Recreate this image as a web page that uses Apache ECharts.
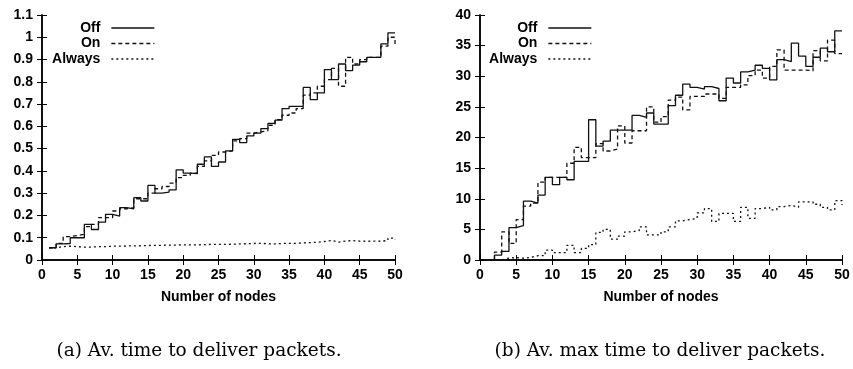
<!DOCTYPE html>
<html>
<head>
<meta charset="utf-8">
<script src="https://cdn.jsdelivr.net/npm/echarts@6/dist/echarts.min.js"></script>
<style>
  html, body { margin: 0; padding: 0; background: #fff; }
  #chart { width: 853px; height: 369px; }
</style>
</head>
<body>
<div id="chart"></div>
<script>
const nodes = [1,2,3,4,5,6,7,8,9,10,11,12,13,14,15,16,17,18,19,20,21,22,23,24,25,
  26,27,28,29,30,31,32,33,34,35,36,37,38,39,40,41,42,43,44,45,46,47,48,49,50];

// (a) average time to deliver packets
const avgOff = [0.055,0.072,0.074,0.10,0.10,0.16,0.137,0.17,0.205,0.197,0.235,0.23,0.28,0.265,0.335,0.30,0.305,0.315,0.405,0.39,
  0.388,0.43,0.463,0.42,0.44,0.49,0.542,0.527,0.557,0.57,0.59,0.613,0.628,0.68,0.69,0.69,0.775,0.72,0.75,0.855,
  0.81,0.88,0.85,0.875,0.89,0.91,0.91,0.97,1.02,1.02];
const avgOn = [0.055,0.075,0.105,0.11,0.115,0.15,0.16,0.19,0.19,0.22,0.23,0.235,0.275,0.275,0.30,0.32,0.33,0.345,0.37,0.38,
  0.39,0.42,0.445,0.47,0.485,0.49,0.535,0.545,0.57,0.575,0.58,0.605,0.63,0.65,0.66,0.68,0.74,0.75,0.78,0.81,
  0.86,0.78,0.91,0.88,0.90,0.91,0.91,0.96,1.0,0.96];
const avgAlways = [0.055,0.06,0.062,0.06,0.058,0.058,0.06,0.06,0.062,0.062,0.063,0.063,0.064,0.065,0.066,0.066,0.067,0.067,0.068,0.068,
  0.068,0.069,0.07,0.07,0.07,0.071,0.072,0.073,0.074,0.075,0.073,0.072,0.074,0.075,0.075,0.077,0.078,0.08,0.083,0.088,
  0.08,0.085,0.087,0.085,0.084,0.085,0.084,0.088,0.098,0.092];

// (b) average max time to deliver packets
const maxOff = [0,0.8,1.4,5.3,5.6,9.6,9.3,10.6,13.5,12.3,13.5,13.1,16.1,16.1,22.9,18.6,19.4,21.2,21.2,21.2,
  23.6,23.3,24.0,22.2,22.2,25.2,26.9,28.7,28.2,27.9,28.3,28.0,26.0,29.7,28.9,30.7,31.0,31.8,31.3,29.4,
  32.7,32.4,35.4,33.3,31.6,33.1,34.6,34.0,37.4,37.4];
const maxOn = [0,1.3,4.6,2.7,6.6,8.8,9.3,12.7,13.5,13.5,13.5,15.8,18.4,16.7,16.7,19.0,17.8,18.1,21.9,19.1,
  21.1,21.1,25.0,22.5,23.4,26.1,26.6,24.5,26.7,26.7,27.1,27.1,26.4,28.2,28.2,28.6,30.1,31.0,29.7,31.6,
  34.3,31.0,31.0,31.0,30.9,34.2,32.5,35.9,33.7,33.7];
const maxAlways = [0,0,0.3,0.4,0.3,0.4,0.7,0.7,1.6,1.2,1.2,2.4,1.2,1.9,2.5,4.5,5.0,3.4,3.9,4.6,
  4.8,5.4,4.1,4.1,4.6,5.4,6.4,6.6,6.8,7.7,8.4,6.3,7.6,7.6,6.3,8.6,6.8,8.4,8.6,8.2,
  8.7,8.9,8.6,9.5,9.5,9.1,8.6,8.2,9.7,9.0];

const seriesNames = ['Off', 'On', 'Always'];

const sans = 'Liberation Sans';
const pair = (ys) => nodes.map((x, i) => [x, ys[i]]);
const dashes = ['solid', [4, 3], [2, 3]];

const grids = [
  { left: 42, right: 458, top: 15, bottom: 109 },
  { left: 480, right: 11, top: 15, bottom: 109 }
];

const xAxes = [], yAxes = [], series = [], legends = [];
grids.forEach((g, k) => {
  const labelStyle = { fontFamily: sans, fontWeight: 'bold', fontSize: 14, color: '#000' };
  xAxes.push({
    type: 'value', gridIndex: k, min: 0, max: 50, interval: 5, position: 'bottom',
    name: 'Number of nodes', nameLocation: 'middle', nameGap: 30,
    nameTextStyle: labelStyle,
    axisLine: { lineStyle: { color: '#000', width: 1.5 } },
    axisTick: { inside: true, length: 5, lineStyle: { color: '#000' } },
    axisLabel: Object.assign({ margin: 8 }, labelStyle),
    splitLine: { show: false }
  });
  xAxes.push({
    type: 'value', gridIndex: k, min: 0, max: 50, interval: 5, position: 'top',
    axisLine: { lineStyle: { color: '#000', width: 1.5 } },
    axisTick: { inside: true, length: 5, lineStyle: { color: '#000' } },
    axisLabel: { show: false }, splitLine: { show: false }
  });
  const yMax = k === 0 ? 1.1 : 40;
  const yInt = k === 0 ? 0.1 : 5;
  yAxes.push({
    type: 'value', gridIndex: k, min: 0, max: yMax, interval: yInt, position: 'left',
    axisLine: { show: true, lineStyle: { color: '#000', width: 1.5 } },
    axisTick: { show: true, inside: true, length: 5, lineStyle: { color: '#000' } },
    axisLabel: Object.assign({ margin: 9, formatter: v => String(+v.toFixed(1)) }, labelStyle),
    splitLine: { show: false }
  });
  yAxes.push({
    type: 'value', gridIndex: k, min: 0, max: yMax, interval: yInt, position: 'right',
    axisLine: { show: true, lineStyle: { color: '#000', width: 1.5 } },
    axisTick: { show: true, inside: true, length: 5, lineStyle: { color: '#000' } },
    axisLabel: { show: false }, splitLine: { show: false }
  });
  const data = k === 0 ? [avgOff, avgOn, avgAlways] : [maxOff, maxOn, maxAlways];
  seriesNames.forEach((name, s) => {
    series.push({
      name: name, type: 'line', step: 'end',
      xAxisIndex: k * 2, yAxisIndex: k * 2,
      data: pair(data[s]), symbol: 'none', silent: true,
      color: '#111',
      lineStyle: { color: '#111', width: 1.3, type: dashes[s] }
    });
    // one legend per row so text is right aligned against the sample line
    legends.push({
      data: [name], orient: 'vertical', align: 'right', selectedMode: false,
      right: k === 0 ? 698 : 261, top: 21 + s * 15.5,
      itemWidth: 43, itemHeight: 10, padding: 0,
      itemStyle: { opacity: 0 },
      lineStyle: { color: '#111', width: 1.3, type: dashes[s] },
      textStyle: { fontFamily: sans, fontWeight: 'bold', fontSize: 14, color: '#000', padding: [0, 6, 0, 0] }
    });
  });
});

const chart = echarts.init(document.getElementById('chart'));
chart.setOption({
  animation: false,
  backgroundColor: '#fff',
  grid: grids,
  xAxis: xAxes,
  yAxis: yAxes,
  legend: legends,
  series: series,
  graphic: [
    { type: 'text', x: 199, y: 351, style: { text: '(a) Av. time to deliver packets.', textAlign: 'center', textVerticalAlign: 'middle', font: '18.5px "DejaVu Serif"', fill: '#000' } },
    { type: 'text', x: 660, y: 351, style: { text: '(b) Av. max time to deliver packets.', textAlign: 'center', textVerticalAlign: 'middle', font: '18.5px "DejaVu Serif"', fill: '#000' } }
  ]
});
</script>
</body>
</html>
